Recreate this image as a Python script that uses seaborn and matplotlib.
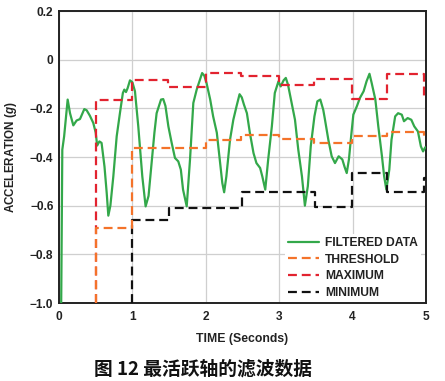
import matplotlib
matplotlib.use("Agg")
import matplotlib.pyplot as plt
import seaborn as sns
import pandas as pd

# ---- data ----
green_t = [0.03, 0.04, 0.045, 0.07, 0.118, 0.15, 0.195, 0.24, 0.286, 0.345, 0.377, 0.42,
           0.467, 0.50, 0.52, 0.55, 0.58, 0.62, 0.65, 0.672, 0.70, 0.74, 0.786, 0.83,
           0.87, 0.89, 0.913, 0.935, 0.967, 1.0, 1.035, 1.08, 1.135, 1.18, 1.22, 1.26,
           1.30, 1.33, 1.39, 1.42, 1.45, 1.49, 1.535, 1.58, 1.625, 1.66, 1.69, 1.74,
           1.785, 1.83, 1.876, 1.92, 1.95, 1.98, 2.01, 2.06, 2.10, 2.15, 2.19, 2.225,
           2.25, 2.28, 2.33, 2.375, 2.42, 2.46, 2.49, 2.52, 2.56, 2.60, 2.65, 2.69,
           2.74, 2.77, 2.81, 2.85, 2.90, 2.94, 2.99, 3.02, 3.06, 3.09, 3.12, 3.17,
           3.215, 3.26, 3.31, 3.35, 3.39, 3.43, 3.48, 3.52, 3.56, 3.60, 3.62, 3.67,
           3.715, 3.76, 3.81, 3.86, 3.89, 3.92, 3.95, 3.98, 4.01, 4.06, 4.10, 4.15,
           4.19, 4.23, 4.26, 4.31, 4.35, 4.40, 4.43, 4.46, 4.50, 4.53, 4.58, 4.62,
           4.67, 4.70, 4.75, 4.80, 4.84, 4.89, 4.93, 4.96, 4.99]
green_g = [-1.0, -0.6, -0.37, -0.315, -0.164, -0.22, -0.27, -0.25, -0.244, -0.203, -0.208, -0.23,
           -0.26, -0.30, -0.353, -0.336, -0.342, -0.44, -0.548, -0.641, -0.60, -0.48, -0.315, -0.22,
           -0.137, -0.123, -0.133, -0.117, -0.085, -0.093, -0.13, -0.274, -0.48, -0.603, -0.56, -0.43,
           -0.30, -0.22, -0.164, -0.162, -0.19, -0.274, -0.342, -0.404, -0.418, -0.452, -0.534, -0.603,
           -0.41, -0.178, -0.123, -0.082, -0.055, -0.066, -0.096, -0.164, -0.233, -0.30, -0.41, -0.507,
           -0.545, -0.48, -0.329, -0.247, -0.19, -0.142, -0.155, -0.185, -0.22, -0.30, -0.384, -0.425,
           -0.445, -0.48, -0.534, -0.41, -0.274, -0.137, -0.089, -0.11, -0.085, -0.075, -0.103, -0.178,
           -0.247, -0.37, -0.48, -0.60, -0.52, -0.356, -0.233, -0.171, -0.164, -0.206, -0.24, -0.33,
           -0.397, -0.425, -0.397, -0.41, -0.44, -0.466, -0.41, -0.315, -0.226, -0.19, -0.157, -0.13,
           -0.089, -0.058, -0.096, -0.164, -0.274, -0.397, -0.48, -0.534, -0.452, -0.329, -0.233, -0.22,
           -0.226, -0.253, -0.24, -0.247, -0.274, -0.295, -0.356, -0.377, -0.36]

step_t = [0.5, 0.5, 1.0, 1.48, 2.0, 2.48, 3.0, 3.48, 3.99, 4.47, 4.97, 5.0]
max_g = [-1.0, -0.164, -0.082, -0.112, -0.056, -0.069, -0.103, -0.078, -0.160, -0.060, -0.155, -0.155]
thr_g = [-1.0, -0.692, -0.364, -0.364, -0.332, -0.308, -0.326, -0.341, -0.313, -0.298, -0.315, -0.315]

min_t = [1.0, 1.0, 1.5, 2.49, 3.49, 3.99, 4.47, 4.97, 5.0]
min_g = [-1.0, -0.658, -0.610, -0.543, -0.604, -0.466, -0.542, -0.486, -0.486]

x_ticks = [0, 1, 2, 3, 4, 5]
y_ticks = [0.2, 0.0, -0.2, -0.4, -0.6, -0.8, -1.0]
y_tick_labels = ["0.2", "0", "\u22120.2", "\u22120.4", "\u22120.6", "\u22120.8", "\u22121.0"]

labels = ["FILTERED DATA", "THRESHOLD", "MAXIMUM", "MINIMUM"]
colors = ["#33a84a", "#f4732a", "#e2232f", "#111111"]

# ---- plot ----
sns.set_theme(style="white")
plt.rcParams["font.family"] = ["Liberation Sans", "DejaVu Sans"]
plt.rcParams["mathtext.fontset"] = "custom"
plt.rcParams["mathtext.bfit"] = "Liberation Sans:italic:bold"
plt.rcParams["mathtext.it"] = "Liberation Sans:italic"

fig = plt.figure(figsize=(4.45, 3.81), dpi=100)
ax = fig.add_axes([59 / 445, 1 - 303 / 381, (426 - 59) / 445, (303 - 11) / 381])

df_g = pd.DataFrame({"t": green_t, "g": green_g})
df_max = pd.DataFrame({"t": step_t, "g": max_g})
df_thr = pd.DataFrame({"t": step_t, "g": thr_g})
df_min = pd.DataFrame({"t": min_t, "g": min_g})

dash = (4.0, 2.2)
sns.lineplot(data=df_g, x="t", y="g", ax=ax, color=colors[0], lw=1.6,
             estimator=None, sort=False, label=labels[0], zorder=3)
sns.lineplot(data=df_max, x="t", y="g", ax=ax, color=colors[2], lw=1.6,
             estimator=None, sort=False, drawstyle="steps-post", label=labels[2],
             dashes=False, zorder=4).lines[-1].set_dashes(dash)
sns.lineplot(data=df_thr, x="t", y="g", ax=ax, color=colors[1], lw=1.6,
             estimator=None, sort=False, drawstyle="steps-post", label=labels[1],
             dashes=False, zorder=5).lines[-1].set_dashes(dash)
sns.lineplot(data=df_min, x="t", y="g", ax=ax, color=colors[3], lw=1.6,
             estimator=None, sort=False, drawstyle="steps-post", label=labels[3],
             dashes=False, zorder=4).lines[-1].set_dashes(dash)

ax.set_xlim(0, 5)
ax.set_ylim(-1.0, 0.2)
ax.set_xticks(x_ticks)
ax.set_xticklabels([str(v) for v in x_ticks])
ax.set_yticks(y_ticks)
ax.set_yticklabels(y_tick_labels)
ax.grid(True, color="#cfcfcf", lw=0.9)
ax.set_axisbelow(True)
for s in ax.spines.values():
    s.set_color("#222222")
    s.set_linewidth(1.4)
ax.tick_params(axis="both", length=0, labelsize=8.6, colors="#222222")
ax.tick_params(axis="x", pad=6.0)
ax.tick_params(axis="y", pad=4.0)
for lab in ax.get_xticklabels() + ax.get_yticklabels():
    lab.set_fontweight("bold")

ax.set_xlabel("TIME (Seconds)", fontsize=8.8, fontweight="bold", color="#222222")
ax.set_ylabel(r"ACCELERATION ($\mathbfit{g}$)", fontsize=8.4, fontweight="bold", color="#222222")
ax.xaxis.set_label_coords(0.5, -0.103)
ax.yaxis.set_label_coords(-0.11, 0.5)

handles, labs = ax.get_legend_handles_labels()
order = [labs.index(l) for l in labels]
leg = ax.legend([handles[i] for i in order], [labs[i] for i in order],
                loc="lower right", bbox_to_anchor=(0.987, 0.004), frameon=True,
                fancybox=False, edgecolor="none", facecolor="white", framealpha=1,
                fontsize=8.7, handlelength=2.5, handletextpad=0.55, labelspacing=0.38,
                borderpad=0.25, borderaxespad=0.0)
for t in leg.get_texts():
    t.set_fontweight("bold")
    t.set_color("#222222")

fig.text(203.5 / 445, 1 - 369 / 381, "图 12 最活跃轴的滤波数据", ha="center", va="center",
         fontsize=13.5, family=["Noto Sans CJK SC", "DejaVu Sans"], fontweight="bold",
         color="#111111")

fig.savefig("out.png", dpi=100)
